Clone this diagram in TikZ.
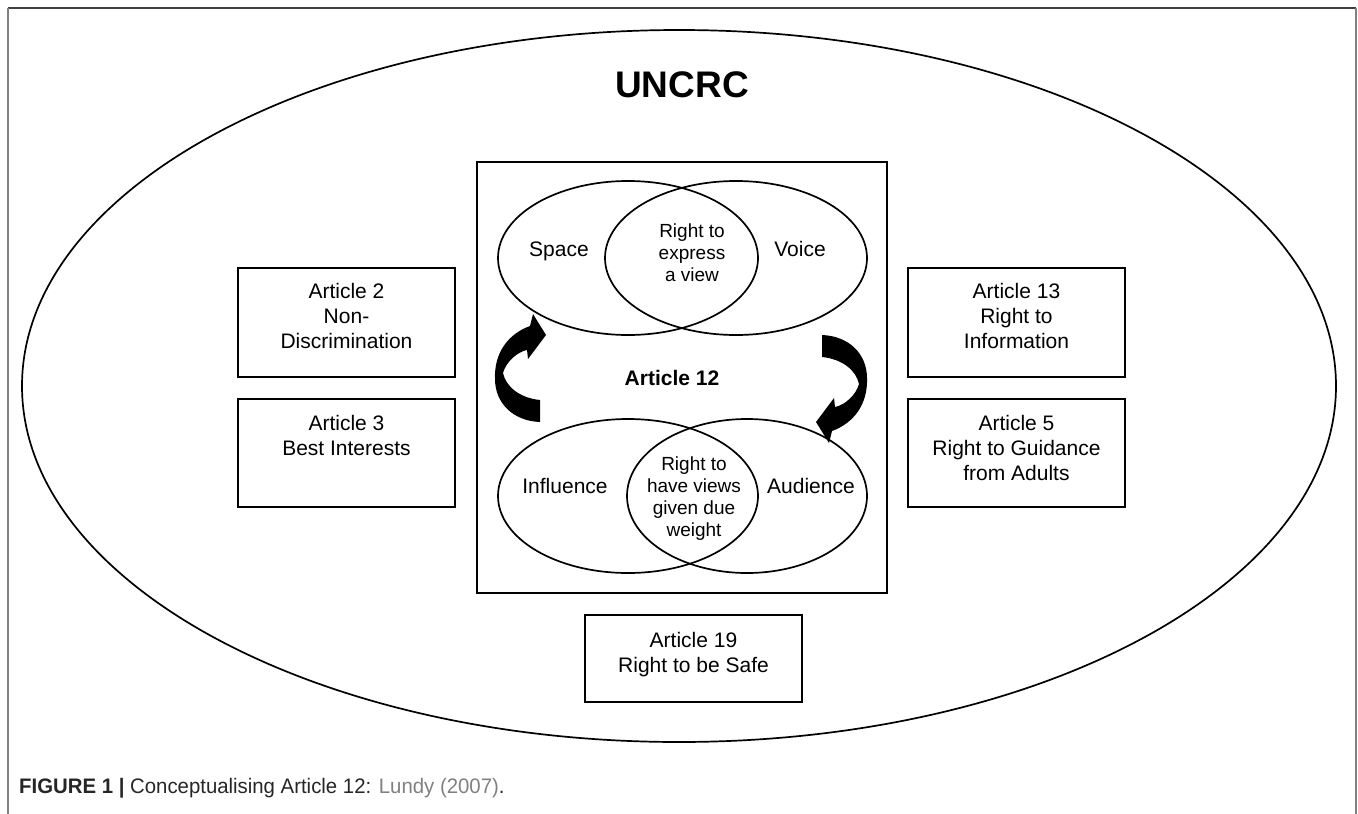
\documentclass[tikz,border=0pt]{standalone}
\usepackage{fontspec}
\usepackage{graphicx}
\setmainfont{Liberation Sans}
\usetikzlibrary{shapes.geometric}
\begin{document}
\begin{tikzpicture}[x=1pt,y=-1pt,
  outline/.style={draw, line width=1.7pt, inner sep=0pt},
  oval/.style={outline, ellipse},
  artbox/.style={outline, rectangle, minimum width=217pt},
  arttext/.style={font=\fontsize{21}{25}\selectfont, align=center, inner sep=0pt, anchor=north},
  venntext/.style={font=\fontsize{21}{25}\selectfont, inner sep=0pt, anchor=base},
  lenstext/.style={font=\fontsize{19}{22}\selectfont, align=center, inner sep=0pt, anchor=north},
  blockarrow/.style={fill=black, draw=none}
]
\useasboundingbox (0,0) rectangle (1358,814);
% page frame
\draw[black!75, line width=1.3pt] (8,8) -- (1356,8);
\draw[black!50, line width=1.5pt] (8,8) -- (8,814);
\draw[black!50, line width=1.5pt] (1356,8) -- (1356,814);

% outer ellipse
\node[oval, minimum width=1314pt, minimum height=712pt] (uncrc) at (679,386) {};
\node[font=\bfseries\fontsize{37}{44}\selectfont, anchor=base, inner sep=0pt] (title) at (682,97) {UNCRC};

% central box
\node[outline, rectangle, minimum width=410pt, minimum height=431pt] (art12box) at (682,377.5) {};

% upper Venn
\node[oval, minimum width=260pt, minimum height=154pt] (space) at (628,258) {};
\node[oval, minimum width=262pt, minimum height=154pt] (voice) at (736,258) {};
\node[venntext] (spacet) at (559,256) {Space};
\node[venntext] (voicet) at (800,256) {Voice};
\node[lenstext] (expr) at (692,224) {Right to\\express\\a view};

% lower Venn
\node[oval, minimum width=260pt, minimum height=154pt] (influence) at (628,496) {};
\node[oval, minimum width=240pt, minimum height=154pt] (audience) at (747,496) {};
\node[venntext] (influencet) at (565,493) {Influence};
\node[venntext] (audiencet) at (811,493) {Audience};
\node[lenstext] (weight) at (694,457) {Right to\\have views\\given due\\weight};

\node[font=\bfseries\fontsize{21}{25}\selectfont, anchor=base, inner sep=0pt] (art12) at (672,385) {Article 12};

% curved arrows
\path[blockarrow] (540,400) -- (540,422)
  .. controls (513,421) and (495,403) .. (495,379)
  .. controls (494,353) and (508,334) .. (530,326)
  -- (533,314) -- (546,335) -- (528,359) -- (527,350)
  .. controls (517,352) and (506,362) .. (503,373)
  .. controls (506,387) and (520,398) .. (540,400) -- cycle;
\path[blockarrow, rotate around={180:(681,378.5)}] (540,400) -- (540,422)
  .. controls (513,421) and (495,403) .. (495,379)
  .. controls (494,353) and (508,334) .. (530,326)
  -- (533,314) -- (546,335) -- (528,359) -- (527,350)
  .. controls (517,352) and (506,362) .. (503,373)
  .. controls (506,387) and (520,398) .. (540,400) -- cycle;

% article boxes
\node[artbox, minimum height=109pt] (a2) at (346.5,322.5) {};
\node[arttext] (a2t) at (346.5,283) {Article 2\\Non-\\Discrimination};
\node[artbox, minimum height=108pt] (a3) at (346.5,453) {};
\node[arttext] (a3t) at (346.5,415) {Article 3\\Best Interests};
\node[artbox, minimum height=109pt] (a13) at (1016.5,322.5) {};
\node[arttext] (a13t) at (1016.5,283) {Article 13\\Right to\\Information};
\node[artbox, minimum height=108pt] (a5) at (1016.5,453) {};
\node[arttext] (a5t) at (1016.5,415) {Article 5\\Right to Guidance\\from Adults};
\node[artbox, minimum height=87pt] (a19) at (693.5,658.5) {};
\node[arttext] (a19t) at (693.5,632) {Article 19\\Right to be Safe};

% caption
\node[anchor=base west, inner sep=0pt, font=\fontsize{21}{25}\selectfont, text=black!85] (caption) at (19,793)
  {\scalebox{0.97}[1]{\textbf{FIGURE 1 |} Conceptualising Article 12: \textcolor{black!50}{Lundy (2007)}.}};
\end{tikzpicture}
\end{document}
